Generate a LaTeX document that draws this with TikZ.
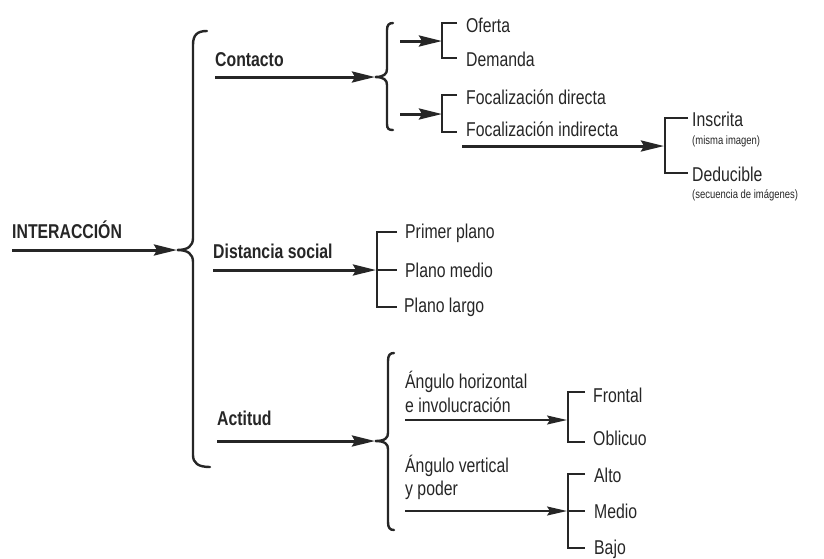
\documentclass[tikz,border=0pt]{standalone}
\usepackage{fontspec}
\setmainfont[FakeStretch=0.79]{Liberation Sans}
\usetikzlibrary{arrows.meta}
\definecolor{ink}{HTML}{262626}
\begin{document}
\begin{tikzpicture}[x=1pt,y=-1pt,
  lbl/.style={anchor=base west,inner sep=0pt,text=ink,font=\fontsize{20}{22}\selectfont},
  hd/.style={anchor=base west,inner sep=0pt,text=ink,font=\fontsize{20}{22}\selectfont\bfseries},
  sm/.style={anchor=base west,inner sep=0pt,text=ink,font=\fontsize{12}{13}\selectfont},
  bigarrow/.style={draw=ink,line width=3pt,-{Stealth[length=23pt,width=11pt,inset=3pt]}},
  thinarrow/.style={draw=ink,line width=1.7pt,-{Stealth[length=20pt,width=9pt,inset=3pt]}},
  brk/.style={draw=ink,line width=2.2pt},
  brc/.style={draw=ink,line width=2.4pt,line cap=round}]
\useasboundingbox (0,0) rectangle (824,558);

% ---- text nodes ----
\node[hd] (inter) at (12,238) {INTERACCIÓN};
\node[hd] (contacto) at (215,66) {Contacto};
\node[hd] (dist) at (213,258) {Distancia social};
\node[hd] (act) at (217,425) {Actitud};

\node[lbl] (oferta) at (466,32) {Oferta};
\node[lbl] (demanda) at (466,66) {Demanda};
\node[lbl] (fdir) at (466,104) {Focalización directa};
\node[lbl] (find) at (466,136) {Focalización indirecta};
\node[lbl] (insc) at (692,126) {Inscrita};
\node[sm] (misma) at (692,144) {(misma imagen)};
\node[lbl] (dedu) at (692,181) {Deducible};
\node[sm] (secu) at (692,198) {(secuencia de imágenes)};

\node[lbl] (primer) at (405,238) {Primer plano};
\node[lbl] (pmedio) at (405,277) {Plano medio};
\node[lbl] (plargo) at (404,312) {Plano largo};

\node[lbl] (ah1) at (405,388) {Ángulo horizontal};
\node[lbl] (ah2) at (405,412) {e involucración};
\node[lbl] (av1) at (405,472) {Ángulo vertical};
\node[lbl] (av2) at (405,495) {y poder};

\node[lbl] (frontal) at (593,402) {Frontal};
\node[lbl] (oblicuo) at (593,445) {Oblicuo};
\node[lbl] (alto) at (594,482) {Alto};
\node[lbl] (medio) at (594,518) {Medio};
\node[lbl] (bajo) at (594,554) {Bajo};

% ---- braces ----
\coordinate (mtip) at (177,250);
\draw[brc] (207,31) .. controls (197,31) and (193,35) .. (193,45) -- (193,238)
  .. controls (193,246) and (188,250) .. (mtip)
  .. controls (188,250) and (193,254) .. (193,262) -- (193,455)
  .. controls (193,463) and (198,467) .. (210,467);

\coordinate (ctip) at (375,77);
\draw[brc] (393,23) .. controls (389,23) and (387,25) .. (387,30) -- (387,69)
  .. controls (387,74) and (384,77) .. (ctip)
  .. controls (384,77) and (387,80) .. (387,85) -- (387,124)
  .. controls (387,129) and (389,130) .. (393,130);

\coordinate (atip) at (375,441);
\draw[brc] (394,353) .. controls (390,353) and (388,355) .. (388,361) -- (388,433)
  .. controls (388,438) and (385,441) .. (atip)
  .. controls (385,441) and (388,444) .. (388,449) -- (388,522)
  .. controls (388,528) and (390,530) .. (394,530);

% ---- brackets ----
\coordinate (ofb) at (442,41);
\draw[brk] (457,23) -- (442,23) -- (442,58) -- (457,58);
\coordinate (fob) at (442,114);
\draw[brk] (457,95) -- (442,95) -- (442,132) -- (457,132);
\coordinate (inb) at (664,146);
\draw[brk] (688,118) -- (665,118) -- (665,173) -- (688,173);
\coordinate (dsb) at (376,270);
\draw[brk] (397,232) -- (377,232) -- (377,307) -- (397,307);
\draw[brk] (377,270) -- (397,270);
\coordinate (frb) at (567,420);
\draw[brk] (585,392) -- (568,392) -- (568,442) -- (585,442);
\coordinate (alb) at (567,511);
\draw[brk] (585,474) -- (568,474) -- (568,548) -- (585,548);
\draw[brk] (568,511) -- (585,511);

% ---- arrows ----
\draw[bigarrow] (inter.west |- mtip) -- (mtip);
\draw[bigarrow] (contacto.west |- ctip) -- (ctip);
\draw[bigarrow] (dist.west |- dsb) -- (dsb);
\draw[bigarrow] (act.west |- atip) -- (atip);
\coordinate (ofs) at (400,41);
\coordinate (fos) at (400,114);
\draw[bigarrow] (ofs) -- (ofb);
\draw[bigarrow] (fos) -- (fob);
\draw[bigarrow] ([xshift=-4pt]find.west |- inb) -- (inb);
\draw[thinarrow] (ah2.west |- frb) -- (frb);
\draw[thinarrow] (av2.west |- alb) -- (alb);
\end{tikzpicture}
\end{document}
